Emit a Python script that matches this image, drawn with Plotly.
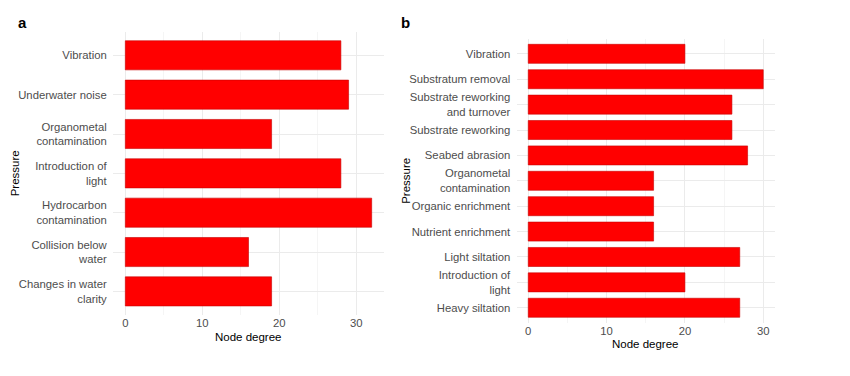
import plotly.graph_objects as go

# Panel a data (top to bottom as drawn)
cats_a = ["Vibration", "Underwater noise", "Organometal<br>contamination",
          "Introduction of<br>light", "Hydrocarbon<br>contamination",
          "Collision below<br>water", "Changes in water<br>clarity"]
vals_a = [28, 29, 19, 28, 32, 16, 19]

# Panel b data (top to bottom as drawn)
cats_b = ["Vibration", "Substratum removal", "Substrate reworking<br>and turnover",
          "Substrate reworking", "Seabed abrasion", "Organometal<br>contamination",
          "Organic enrichment", "Nutrient enrichment", "Light siltation",
          "Introduction of<br>light", "Heavy siltation"]
vals_b = [20, 30, 26, 26, 28, 16, 16, 16, 27, 20, 27]

x_ticks = [0, 10, 20, 30]

# page body has an 8px margin; size the figure to fit inside the window
OFF = 8
W, H = 850 - 2 * OFF, 376 - 2 * OFF
FONT = "Liberation Sans, Arial, sans-serif"
BAR = "#ff0000"
EDGE = "#c80000"
GRID = "#ebebeb"
MINOR = "#f5f5f5"
TICKC = "#4d4d4d"


def X(px):
    return (px - OFF) / W


def Y(py):
    return 1 - (py - OFF) / H


fig = go.Figure()
fig.add_trace(go.Bar(x=vals_a, y=cats_a, orientation="h", width=0.74,
                     marker=dict(color=BAR, line=dict(color=EDGE, width=0.6)),
                     xaxis="x", yaxis="y", hoverinfo="skip", showlegend=False))
fig.add_trace(go.Bar(x=vals_b, y=cats_b, orientation="h", width=0.75,
                     marker=dict(color=BAR, line=dict(color=EDGE, width=0.6)),
                     xaxis="x2", yaxis="y2", hoverinfo="skip", showlegend=False))

# pixel-based panel boxes (window coordinates)
ax_l, ax_r = 113, 384
ay_t, ay_b = 31.7, 315
bx_l, bx_r = 516.5, 775
by_t, by_b = 38.6, 323

common_x = dict(tickvals=x_ticks, ticktext=[str(v) for v in x_ticks],
                showgrid=True, gridcolor=GRID, gridwidth=1, zeroline=False,
                showline=False, ticks="",
                tickfont=dict(family=FONT, size=11.3, color=TICKC),
                minor=dict(dtick=5, tick0=0, showgrid=True, gridcolor=MINOR, gridwidth=1),
                fixedrange=True, automargin=False)
common_y = dict(type="category", showgrid=True, gridcolor=GRID, gridwidth=1,
                zeroline=False, showline=False, ticks="outside", ticklen=3,
                tickcolor="rgba(0,0,0,0)",
                tickfont=dict(family=FONT, size=11.3, color=TICKC), fixedrange=True,
                automargin=False)

fig.update_layout(
    width=W, height=H,
    margin=dict(l=0, r=0, t=0, b=0, autoexpand=False),
    paper_bgcolor="white", plot_bgcolor="white",
    xaxis=dict(domain=[X(ax_l), X(ax_r)], range=[-1.6, 33.6], anchor="y", **common_x),
    yaxis=dict(domain=[Y(ay_b), Y(ay_t)], anchor="x",
               categoryorder="array", categoryarray=cats_a[::-1],
               range=[-0.6, len(cats_a) - 0.4], **common_y),
    xaxis2=dict(domain=[X(bx_l), X(bx_r)], range=[-1.5, 31.5], anchor="y2", **common_x),
    yaxis2=dict(domain=[Y(by_b), Y(by_t)], anchor="x2",
                categoryorder="array", categoryarray=cats_b[::-1],
                range=[-0.6, len(cats_b) - 0.4], **common_y),
)


def label(text, px, py, size, angle=0):
    return dict(text=text, x=X(px), y=Y(py), xref="paper", yref="paper",
                xanchor="center", yanchor="middle", showarrow=False, textangle=angle,
                font=dict(family=FONT, size=size, color="black"))


ann = [
    label("<b>a</b>", 22, 23, 15),
    label("<b>b</b>", 405, 23, 15),
    label("Node degree", (ax_l + ax_r) / 2, 337, 11.5),
    label("Node degree", (bx_l + bx_r) / 2, 344, 11.5),
    label("Pressure", 15, (ay_t + ay_b) / 2, 11.5, -90),
    label("Pressure", 406, (by_t + by_b) / 2, 11.5, -90),
]
fig.update_layout(annotations=ann)

fig.write_html("out.html")
